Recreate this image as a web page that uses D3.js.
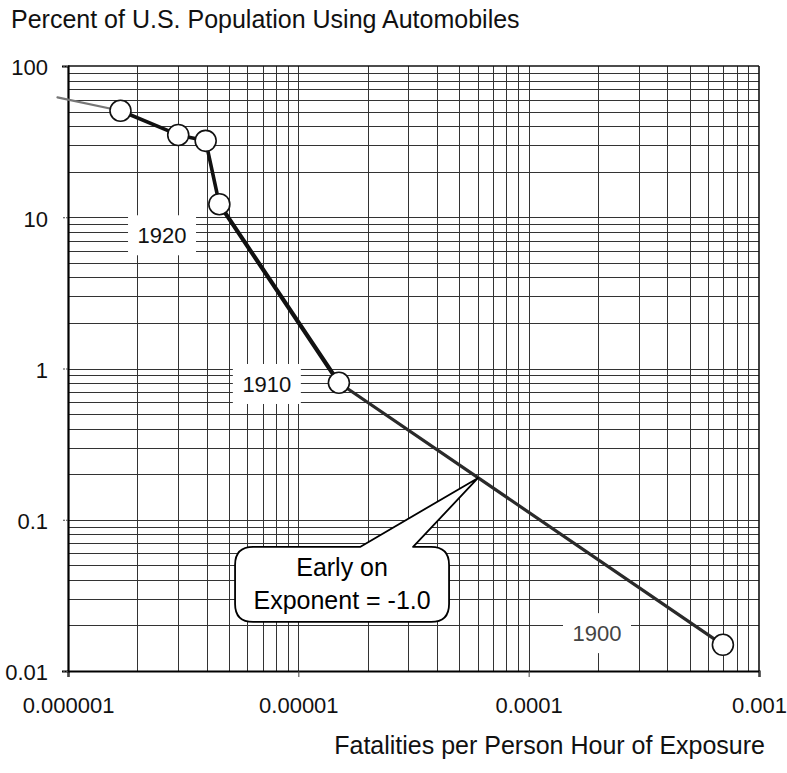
<!DOCTYPE html>
<html>
<head>
<meta charset="utf-8">
<script src="https://cdn.jsdelivr.net/npm/d3@7"></script>
<style>
  html, body { margin: 0; padding: 0; background: #fff; }
  svg { display: block; font-family: "Liberation Sans", Arial, sans-serif; }
</style>
</head>
<body>
<svg id="chart" width="787" height="773"></svg>
<script>
// Fatalities per person-hour of exposure vs. share of population using automobiles
const fatalityRate = [9.0e-7, 1.69e-6, 3.01e-6, 3.96e-6, 4.54e-6, 1.50e-5, 6.97e-4];
const pctUsingAutos = [62, 50.6, 35, 32, 12.2, 0.805, 0.0149];
const markerShown = [false, true, true, true, true, true, true];

const xTickValues = [1e-6, 1e-5, 1e-4, 1e-3];
const xTickLabels = ["0.000001", "0.00001", "0.0001", "0.001"];
const yTickValues = [0.01, 0.1, 1, 10, 100];
const yTickLabels = ["0.01", "0.1", "1", "10", "100"];

const yearLabels = ["1920", "1910", "1900"];
const yearLabelX = [2.56e-6, 7.3e-6, 1.98e-4];
const yearLabelY = [7.6, 0.79, 0.0178];

const calloutLines = ["Early on", "Exponent = -1.0"];
const calloutTipX = 6.03e-5;
const calloutTipY = 0.189;

const titleText = "Percent of U.S. Population Using Automobiles";
const xTitleText = "Fatalities per Person Hour of Exposure";

const svg = d3.select("#chart");
const plotL = 68, plotR = 759, plotT = 66, plotB = 671;

const x = d3.scaleLog().domain([1e-6, 1e-3]).range([plotL, plotR]);
const y = d3.scaleLog().domain([0.01, 100]).range([plotB, plotT]);

svg.append("rect").attr("width", 787).attr("height", 773).attr("fill", "#fff");

// grid lines at every 1..9 multiple within each decade
const gridX = [], gridY = [];
for (let e = -6; e < -3; e++) for (let m = 2; m <= 9; m++) gridX.push(m * Math.pow(10, e));
for (let e = -2; e < 2; e++) for (let m = 1; m <= 9; m++) gridY.push(m * Math.pow(10, e));
gridX.push(1e-5, 1e-4);

const grid = svg.append("g").attr("stroke", "#333").attr("stroke-width", 1);
grid.selectAll("line.gx").data(gridX).join("line")
  .attr("class", "gx")
  .attr("x1", d => Math.round(x(d)) + 0.5).attr("x2", d => Math.round(x(d)) + 0.5)
  .attr("y1", plotT).attr("y2", plotB);
grid.selectAll("line.gy").data(gridY.filter(v => v > 0.01)).join("line")
  .attr("class", "gy")
  .attr("y1", d => Math.round(y(d)) + 0.5).attr("y2", d => Math.round(y(d)) + 0.5)
  .attr("x1", plotL).attr("x2", plotR);

// frame
svg.append("line").attr("x1", plotL).attr("x2", plotR).attr("y1", plotT).attr("y2", plotT)
  .attr("stroke", "#111").attr("stroke-width", 1.6);
svg.append("line").attr("x1", plotR).attr("x2", plotR).attr("y1", plotT).attr("y2", plotB)
  .attr("stroke", "#111").attr("stroke-width", 1.6);

// axes
const xAxis = d3.axisBottom(x).tickValues(xTickValues)
  .tickFormat((d, i) => xTickLabels[i]).tickSize(6);
const gx = svg.append("g").attr("transform", `translate(0,${plotB})`).call(xAxis);
gx.select(".domain").attr("stroke", "#000").attr("stroke-width", 2.2);
gx.selectAll(".tick line").attr("stroke", "#444");
gx.selectAll(".tick text").attr("font-size", 22).attr("fill", "#111")
  .attr("y", 42).attr("dy", 0)
  .attr("font-family", "'Liberation Sans', Arial, sans-serif");

const yAxis = d3.axisLeft(y).tickValues(yTickValues)
  .tickFormat((d, i) => yTickLabels[i]).tickSize(6).tickPadding(14);
const gy = svg.append("g").attr("transform", `translate(${plotL},0)`).call(yAxis);
gy.select(".domain").attr("stroke", "#000").attr("stroke-width", 2.2);
gy.selectAll(".tick line").attr("stroke", "#444").attr("stroke-dasharray", "2,1");
gy.selectAll(".tick text").attr("font-size", 22).attr("fill", "#111").attr("dy", "0.4em")
  .attr("font-family", "'Liberation Sans', Arial, sans-serif");

// year labels with white backing
const yl = svg.append("g");
yearLabels.forEach((t, i) => {
  const cx = x(yearLabelX[i]), cy = y(yearLabelY[i]);
  yl.append("rect").attr("x", cx - 34).attr("y", cy - 20).attr("width", 68).attr("height", 40)
    .attr("fill", "#fff");
  yl.append("text").attr("x", cx).attr("y", cy).attr("dy", "0.36em")
    .attr("text-anchor", "middle").attr("font-size", 22)
    .attr("fill", i === 2 ? "#444" : "#111").text(t);
});

// connecting line, drawn segment by segment
const pts = fatalityRate.map((v, i) => [x(v), y(pctUsingAutos[i])]);
const segWidth = [2.2, 3.6, 3.6, 3.6, 4.2, 3.2];
const segColor = ["#777", "#111", "#111", "#111", "#111", "#2a2a2a"];
const line = d3.line();
for (let i = 0; i < pts.length - 1; i++) {
  svg.append("path").attr("d", line([pts[i], pts[i + 1]]))
    .attr("fill", "none").attr("stroke", segColor[i]).attr("stroke-width", segWidth[i])
    .attr("stroke-linecap", "round");
}

// markers
svg.append("g").selectAll("circle")
  .data(fatalityRate.map((v, i) => ({ v, p: pctUsingAutos[i], show: markerShown[i] })).filter(d => d.show))
  .join("circle")
  .attr("cx", d => x(d.v)).attr("cy", d => y(d.p)).attr("r", 10.5)
  .attr("fill", "#fff").attr("stroke", "#111").attr("stroke-width", 1.6);

// callout bubble pointing at the line
const tx = x(calloutTipX), ty = y(calloutTipY);
const bx0 = tx - 243, bx1 = tx - 29, by0 = ty + 69, by1 = ty + 144, r = 18;
const pL = tx - 118, pR = tx - 65;
const bubble = d3.path();
bubble.moveTo(bx0 + r, by0);
bubble.lineTo(pL, by0);
bubble.lineTo(tx, ty);
bubble.lineTo(pR, by0);
bubble.lineTo(bx1 - r, by0);
bubble.quadraticCurveTo(bx1, by0, bx1, by0 + r);
bubble.lineTo(bx1, by1 - r);
bubble.quadraticCurveTo(bx1, by1, bx1 - r, by1);
bubble.lineTo(bx0 + r, by1);
bubble.quadraticCurveTo(bx0, by1, bx0, by1 - r);
bubble.lineTo(bx0, by0 + r);
bubble.quadraticCurveTo(bx0, by0, bx0 + r, by0);
bubble.closePath();
svg.append("path").attr("d", bubble.toString())
  .attr("fill", "#fff").attr("stroke", "#000").attr("stroke-width", 1.8)
  .attr("stroke-linejoin", "round");
const bcx = (bx0 + bx1) / 2;
calloutLines.forEach((t, i) => {
  svg.append("text").attr("x", bcx).attr("y", by0 + 20 + i * 33).attr("dy", "0.36em")
    .attr("text-anchor", "middle").attr("font-size", 25).attr("fill", "#000").text(t);
});

// titles
svg.append("text").attr("x", 11).attr("y", 28).attr("font-size", 25).attr("fill", "#111")
  .text(titleText);
svg.append("text").attr("x", 765).attr("y", 754).attr("text-anchor", "end")
  .attr("font-size", 25).attr("fill", "#111").text(xTitleText);
</script>
</body>
</html>
